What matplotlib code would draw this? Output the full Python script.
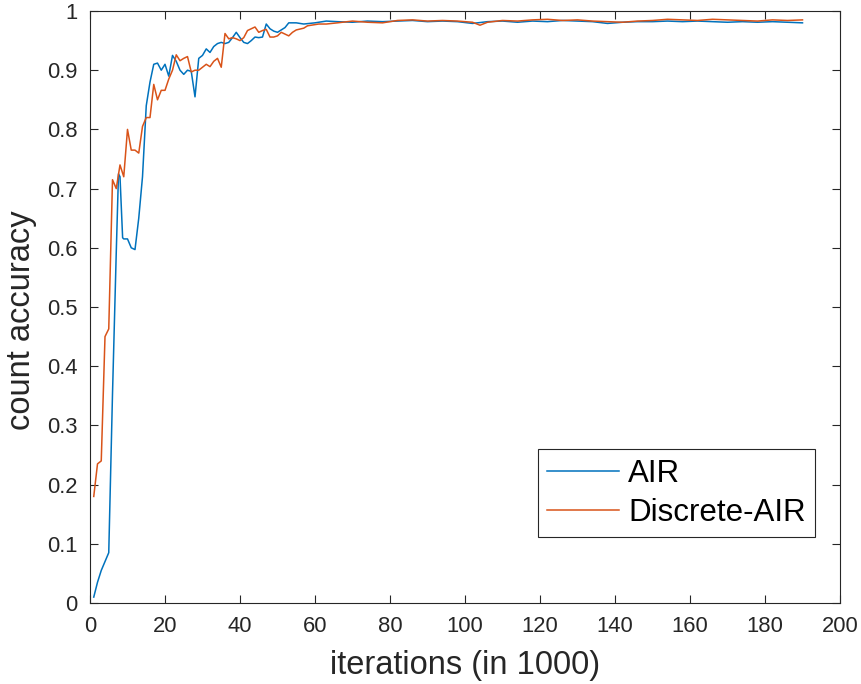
import matplotlib
matplotlib.use("Agg")
import matplotlib.pyplot as plt

plt.rcParams["font.family"] = ["Liberation Sans", "DejaVu Sans"]

# AIR (blue)
air_iter = [1, 2, 3, 4, 5, 6, 7, 7.6, 8, 8.7, 9, 10, 11, 12, 13, 14, 15, 16, 17, 18,
            19, 20, 21, 22, 23, 24, 25, 26, 27, 28, 29, 30, 31, 32, 33, 34, 35, 36,
            37, 38, 39, 40, 41, 42, 43, 44, 45, 46, 47, 48, 49, 50, 52, 53, 55, 57,
            60, 63, 66, 70, 74, 78, 82, 86, 90, 94, 98, 102, 106, 110, 114, 118,
            122, 126, 130, 134, 138, 142, 146, 150, 154, 158, 162, 166, 170, 174,
            178, 182, 186, 190]
air_acc = [0.01, 0.035, 0.055, 0.07, 0.085, 0.353, 0.592, 0.725, 0.72, 0.617, 0.615,
           0.615, 0.60, 0.597, 0.65, 0.72, 0.84, 0.88, 0.91, 0.912,
           0.90, 0.91, 0.89, 0.925, 0.915, 0.90, 0.893, 0.90, 0.898, 0.855, 0.92,
           0.925, 0.936, 0.93, 0.94, 0.945, 0.947, 0.945,
           0.947, 0.955, 0.964, 0.955, 0.947, 0.945, 0.95, 0.956, 0.955, 0.956,
           0.978, 0.97, 0.966, 0.964, 0.972, 0.98, 0.98, 0.978,
           0.98, 0.983, 0.982, 0.981, 0.983, 0.982, 0.983, 0.984, 0.982, 0.983,
           0.982, 0.979, 0.982, 0.983, 0.981, 0.983,
           0.982, 0.984, 0.983, 0.982, 0.979, 0.981, 0.982, 0.982, 0.983, 0.982,
           0.983, 0.982, 0.981, 0.982,
           0.981, 0.982, 0.981, 0.980]

# Discrete-AIR (orange)
dair_iter = [1, 2, 3, 4, 5, 6, 7, 8, 9, 10, 11, 12, 13, 14, 15, 16, 17, 18, 19, 20,
             21, 22, 23, 24, 25, 26, 27, 28, 29, 30, 31, 32, 33, 34, 35, 36, 37, 38,
             39, 40, 41, 42, 43, 44, 45, 46, 47, 48, 49, 50, 51, 53, 54, 55, 57, 58,
             61, 63, 66, 70, 74, 78, 82, 86, 90, 94, 98, 102, 104, 106, 110, 114,
             118, 122, 126, 130, 134, 138, 142, 146, 150, 154, 158, 162, 166, 170,
             174, 178, 182, 186, 190]
dair_acc = [0.18, 0.235, 0.24, 0.45, 0.463, 0.715, 0.70, 0.74, 0.72, 0.80, 0.765,
            0.765, 0.76, 0.805, 0.82, 0.82, 0.876, 0.85, 0.866, 0.866,
            0.885, 0.90, 0.926, 0.916, 0.92, 0.923, 0.897, 0.90, 0.90, 0.905, 0.91,
            0.906, 0.915, 0.92, 0.905, 0.962, 0.953, 0.955,
            0.953, 0.95, 0.955, 0.967, 0.97, 0.973, 0.964, 0.967, 0.969, 0.956,
            0.956, 0.958, 0.964, 0.958, 0.964, 0.968, 0.971, 0.975,
            0.978, 0.978, 0.98, 0.983, 0.981, 0.98, 0.984, 0.985, 0.983, 0.984,
            0.983, 0.981, 0.976, 0.981, 0.984, 0.983,
            0.985, 0.986, 0.984, 0.985, 0.983, 0.982, 0.981, 0.983, 0.984, 0.986,
            0.985, 0.984, 0.986, 0.985,
            0.984, 0.983, 0.985, 0.984, 0.985]

xticks = [0, 20, 40, 60, 80, 100, 120, 140, 160, 180, 200]
yticks = [0, 0.1, 0.2, 0.3, 0.4, 0.5, 0.6, 0.7, 0.8, 0.9, 1]
ytick_labels = ["0", "0.1", "0.2", "0.3", "0.4", "0.5", "0.6", "0.7", "0.8", "0.9", "1"]

dark = "#262626"

fig = plt.figure(figsize=(8.62, 6.84), dpi=100)
ax = fig.add_axes([90 / 862, 1 - 603 / 684, 750 / 862, 592 / 684])

ax.plot(air_iter, air_acc, color="#0072BD", lw=1.1, label="AIR")
ax.plot(dair_iter, dair_acc, color="#D95319", lw=1.1, label="Discrete-AIR")

ax.set_xlim(0, 200)
ax.set_ylim(0, 1)
ax.set_xticks(xticks)
ax.set_yticks(yticks)
ax.set_yticklabels(ytick_labels)
ax.tick_params(direction="in", top=True, right=True, labelsize=15.8,
               colors=dark, length=6, width=0.8)
ax.tick_params(axis="y", pad=9)
ax.tick_params(axis="x", pad=9)
for s in ax.spines.values():
    s.set_color(dark)
    s.set_linewidth(0.8)

ax.set_xlabel("iterations (in 1000)", fontsize=23.5, color=dark, labelpad=10)
ax.set_ylabel("count accuracy", fontsize=23.5, color=dark)
ax.yaxis.set_label_coords(-0.070, 0.478)

leg = ax.legend(loc="lower right", bbox_to_anchor=(0.967, 0.111), fontsize=22.5,
                frameon=True, fancybox=False, framealpha=1, edgecolor=dark,
                handlelength=2.3, handletextpad=0.3, labelspacing=0.3,
                borderpad=0.3, borderaxespad=0)
leg.get_frame().set_linewidth(0.8)

fig.savefig("out.png", dpi=100)
